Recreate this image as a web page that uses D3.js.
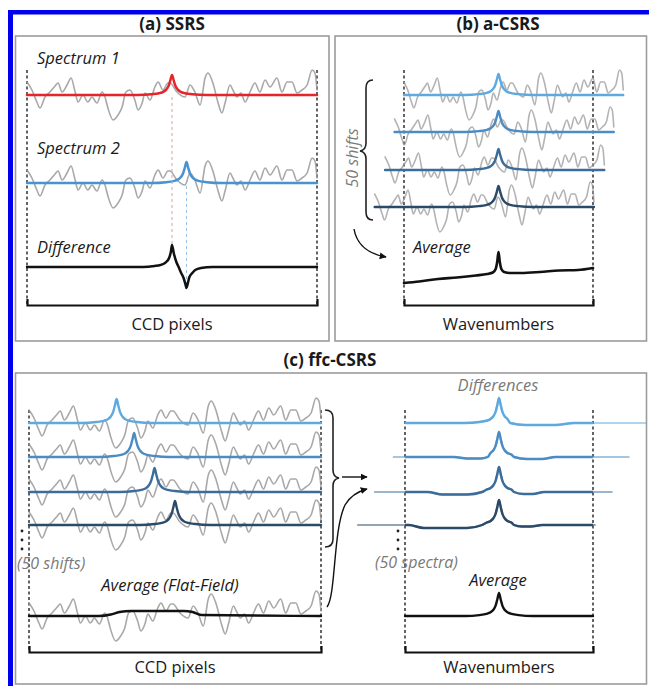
<!DOCTYPE html>
<html>
<head>
<meta charset="utf-8">
<script src="https://cdn.jsdelivr.net/npm/d3@7"></script>
<style>
  body { margin: 0; background: #fff; }
  text { font-family: "Open Sans", "Noto Sans", sans-serif; fill: #1a1a1a; }
  .it { font-style: italic; }
  .soft { fill: #7a7a7a; }
</style>
</head>
<body>
<svg id="chart" width="649" height="686"></svg>
<script>
// fixed-pattern background (CCD pixel 0-100, offset in px)
var noisePix = [0, 1.7, 3.4, 4.5, 6.2, 7.9, 9.7, 10.7, 12.1, 13.8, 15.2, 16.6, 17.6, 19.3, 21, 22.4, 24.1, 25.9, 26.9, 27.9,
    29.7, 31.4, 32.8, 34.1, 35.5, 37.2, 38.3, 39.7, 40.7, 42.4, 44.1, 45.2, 46.9, 48.6, 49.3, 51.7, 54.5, 56.2, 57.9, 59.7,
    61.4, 62.4, 64.1, 65.9, 67.2, 68.3, 70, 71, 72.4, 73.8, 75.2, 76.9, 78.6, 80.3, 82.1, 83.8, 86.2, 87.9, 89.7, 91.4,
    93.1, 94.8, 96.6, 98.3, 99.3, 100];
var noiseVal = [13, 5, -7, -13, -2, 3, 9, 12, 3, 10, 17, 3, -7, 0, -7, -2, -8, 3, -2, -13,
    -25, -20, -12, 3, 5, -5, -15, -8, 2, -5, 8, 13, 5, 12, 12, 3, -2, 10, 3, -10,
    17, 22, 12, -8, -18, -8, 10, 5, -2, 2, -7, 3, 12, 3, 15, 8, 17, 3, 13, 13,
    2, 5, 10, 25, 22, 5];

// Raman band shape (offset from centre, relative height)
var bandDx = [-12, -7, -4.5, -3, -2, -1.2, -0.6, 0, 0.6, 1.2, 2, 3, 4.5, 7, 12];
var bandH = [0, 0.04, 0.09, 0.16, 0.27, 0.45, 0.72, 1, 0.72, 0.45, 0.27, 0.16, 0.09, 0.04, 0];

// (a) SSRS
var ssrsCentres = [50, 55];
var ssrsHeights = [20, 21];
var diffPix = [0, 40, 44, 46, 47, 48, 49, 49.6, 50, 50.6, 51.5, 52.3, 53, 54, 54.6, 55, 55.4, 56, 57, 58, 60, 64, 100];
var diffVal = [0, 0, 1, 2, 3, 5, 9, 15, 22, 14, 5, 0, -5, -11, -17, -21, -17, -10, -6, -3, -1, 0, 0];

// (b) a-CSRS
var aShifts = [0, 5, 10, 15.5];
var aSpan = 116;
var aHeight = 21;
var aAvgPix = [0, 8, 18, 28, 38, 44, 47, 48.5, 49.3, 50, 50.7, 51.5, 53, 56, 62, 72, 82, 92, 100];
var aAvgVal = [0, 1.5, 4, 5.5, 7.5, 9, 10.5, 14, 21, 31, 21, 14, 11, 10, 10, 11, 12.5, 13, 15];

// (c) ffc-CSRS
var cCentres = [30, 36, 43, 50];
var cHeight = 24;
var ffPix = [0, 24, 28, 31, 35, 45, 53, 56, 59, 100];
var ffVal = [0, 0, 1.5, 4, 5, 5, 5, 4, 1, 0];
var dRange = [[0, 128], [-6, 119], [-16, 110], [-25, 101]];
// residual dips, four points each (start, bottom, bottom, end)
var dDipPix = [[56, 64, 80, 90], [26, 33, 40, 44, 58, 65, 73, 80], [12, 20, 33, 41, 58, 63, 68, 74], [2, 10, 33, 41, 58, 62, 67, 73]];
var dDipVal = [[0, -2, -2, 0], [0, -1.5, -1.5, 0, 0, -2, -2, 0], [0, -2.5, -2.5, 0, 0, -2, -2, 0], [0, -3, -3, 0, 0, -1.5, -1.5, 0]];
var dHeight = 25;
var avgHeight = 23;

var rowColours = ["#5eaae0", "#4b8cc4", "#3c6c99", "#2b4a6a"];

var svg = d3.select("#chart");
var defs = svg.append("defs");
defs.append("marker").attr("id", "head").attr("viewBox", "0 0 10 10")
    .attr("refX", 9).attr("refY", 5).attr("markerWidth", 7).attr("markerHeight", 7)
    .attr("orient", "auto").attr("markerUnits", "userSpaceOnUse")
    .append("path").attr("d", "M0,0L10,5L0,10z").attr("fill", "#111");

// blue page border
svg.append("rect").attr("x", 8).attr("y", 10).attr("width", 641).attr("height", 4.5).attr("fill", "#0000f0");
svg.append("rect").attr("x", 8).attr("y", 10).attr("width", 5).attr("height", 676).attr("fill", "#0000f0");

// panel frames and titles
[[15.5, 36, 313.5, 305], [335, 36, 311.5, 305], [15.5, 373, 631, 311]].forEach(function (r) {
    svg.append("rect").attr("x", r[0]).attr("y", r[1]).attr("width", r[2]).attr("height", r[3])
        .attr("fill", "none").attr("stroke", "#9c9c9c").attr("stroke-width", 1.6);
});
[["(a) SSRS", 172, 30], ["(b) a-CSRS", 498, 30], ["(c) ffc-CSRS", 330, 366]].forEach(function (t) {
    svg.append("text").attr("x", t[1]).attr("y", t[2]).attr("text-anchor", "middle")
        .attr("font-size", 17).attr("font-weight", "bold").text(t[0]);
});

function label(x, y, txt, size, cls, anchor) {
    return svg.append("text").attr("x", x).attr("y", y).attr("font-size", size)
        .attr("class", cls || "").attr("text-anchor", anchor || "start").text(txt);
}

// dashed guides + bracket axis for a sub plot
function subplot(x0, x1, yTop, yBot, name, nameY) {
    var x = d3.scaleLinear().domain([0, 100]).range([x0, x1]);
    svg.append("g").selectAll("line").data([0, 100]).join("line")
        .attr("x1", function (d) { return x(d); }).attr("x2", function (d) { return x(d); })
        .attr("y1", yTop).attr("y2", yBot)
        .attr("stroke", "#222").attr("stroke-width", 1.4).attr("stroke-dasharray", "3,2.5");
    svg.append("g").attr("transform", "translate(0," + yBot + ")")
        .call(d3.axisBottom(x).tickValues([]).tickSizeOuter(-6))
        .call(function (a) { a.select(".domain").attr("stroke", "#111").attr("stroke-width", 2.2); });
    label((x0 + x1) / 2, nameY, name, 16.5, "", "middle");
    return x;
}

function rowScale(base) {
    return d3.scaleLinear().domain([0, 1]).range([base, base - 1]);
}

function trace(x, y, pts, colour, width, curve) {
    var line = d3.line()
        .x(function (d) { return x(d[0]); })
        .y(function (d) { return y(d[1]); })
        .curve(curve || d3.curveMonotoneX);
    return svg.append("path").datum(pts).attr("d", line)
        .attr("fill", "none").attr("stroke", colour).attr("stroke-width", width)
        .attr("stroke-linejoin", "round").attr("stroke-linecap", "round");
}

function noisePts(offset, stretch) {
    return noisePix.map(function (p, i) { return [offset + p * stretch, noiseVal[i]]; });
}

// band on a flat baseline; dips (if any) replace the band tail where they sit
function bandPts(c, h, lo, hi, w, dipPix, dipVal) {
    var pts = [[lo, 0], [hi, 0]];
    var spans = [];
    if (dipPix) {
        for (var k = 0; k < dipPix.length; k += 4) spans.push([dipPix[k], dipPix[k + 3]]);
        dipPix.forEach(function (p, k) { if (p > lo && p < hi) pts.push([p, dipVal[k]]); });
    }
    bandDx.forEach(function (d, i) {
        var p = c + d * w;
        var inDip = spans.some(function (s) { return p >= s[0] && p <= s[1]; });
        if (p > lo && p < hi && !inDip) pts.push([p, bandH[i] * h]);
    });
    return pts.sort(function (a, b) { return a[0] - b[0]; });
}

function grey(x, y, pts, op) {
    return trace(x, y, pts, "#999", 1.6, d3.curveMonotoneX).attr("opacity", op || 0.85);
}

// ---- (a) SSRS ----
var xa = subplot(27, 317, 70, 305, "CCD pixels", 330);
var ssrsBase = [95, 183];
var ssrsColours = ["#e4262b", "#4a92d2"];
label(37, 64, "Spectrum 1", 16.5, "it");
label(37, 154, "Spectrum 2", 16.5, "it");
label(37, 253, "Difference", 16.5, "it");
ssrsBase.forEach(function (b, i) {
    var y = rowScale(b);
    grey(xa, y, noisePts(0, 1));
    trace(xa, y, bandPts(ssrsCentres[i], ssrsHeights[i], 0, 100, 1), ssrsColours[i], 2.5);
});
svg.append("line").attr("x1", xa(ssrsCentres[0])).attr("x2", xa(ssrsCentres[0])).attr("y1", 97).attr("y2", 247)
    .attr("stroke", "#e89a9a").attr("stroke-width", 1).attr("stroke-dasharray", "3,3");
svg.append("line").attr("x1", xa(ssrsCentres[1])).attr("x2", xa(ssrsCentres[1])).attr("y1", 186).attr("y2", 287)
    .attr("stroke", "#98bfe4").attr("stroke-width", 1).attr("stroke-dasharray", "3,3");
trace(xa, rowScale(267), diffPix.map(function (p, i) { return [p, diffVal[i]]; }), "#111", 2.5);

// ---- (b) a-CSRS ----
var xb = subplot(404, 593, 70, 305, "Wavenumbers", 330);
var aBase = [95, 132, 170, 207];
aBase.forEach(function (b, i) {
    grey(xb, rowScale(b), noisePts(-aShifts[i], aSpan / 100), 0.75);
});
aBase.forEach(function (b, i) {
    trace(xb, rowScale(b), bandPts(50, aHeight, -aShifts[i], aSpan - aShifts[i], 1.5), rowColours[i], 2.4);
});
svg.append("path").attr("d", "M373,80Q366,80 366,88L366,143Q366,150 360,151Q366,152 366,159L366,212Q366,220 373,220")
    .attr("fill", "none").attr("stroke", "#222").attr("stroke-width", 1.6);
label(0, 0, "50 shifts", 16, "it soft", "middle").attr("transform", "translate(358,158) rotate(-90)");
svg.append("path").attr("d", "M354,229Q358,252 386,257").attr("fill", "none")
    .attr("stroke", "#111").attr("stroke-width", 1.4).attr("marker-end", "url(#head)");
label(413, 253, "Average", 16.5, "it");
trace(xb, rowScale(283), aAvgPix.map(function (p, i) { return [p, aAvgVal[i]]; }), "#111", 2.6);

// ---- (c) ffc-CSRS, left: shifted spectra on CCD pixels ----
var xc = subplot(29, 321, 410, 652, "CCD pixels", 673);
var cBase = [423, 457, 492, 525];
cBase.forEach(function (b) { grey(xc, rowScale(b), noisePts(0, 1)); });
cBase.forEach(function (b, i) {
    trace(xc, rowScale(b), bandPts(cCentres[i], cHeight, 0, 100, 1), rowColours[i], 2.4);
});
[531, 540, 549].forEach(function (d) {
    svg.append("circle").attr("cx", 22).attr("cy", d).attr("r", 1.4).attr("fill", "#222");
});
label(17, 569, "(50 shifts)", 16, "it soft");
label(170, 591, "Average (Flat-Field)", 16.5, "it", "middle");
grey(xc, rowScale(616), noisePts(0, 1));
trace(xc, rowScale(616), ffPix.map(function (p, i) { return [p, ffVal[i]]; }), "#111", 2.4);

svg.append("path").attr("d", "M325,410Q333,410 333,418L333,470Q333,477 339,478Q333,479 333,486L333,539Q333,547 325,547")
    .attr("fill", "none").attr("stroke", "#222").attr("stroke-width", 1.6);
svg.append("path").attr("d", "M342,477L367,477").attr("fill", "none")
    .attr("stroke", "#111").attr("stroke-width", 1.4).attr("marker-end", "url(#head)");
svg.append("path").attr("d", "M327,607C336,595 333,530 345,505Q352,493 367,489").attr("fill", "none")
    .attr("stroke", "#111").attr("stroke-width", 1.4).attr("marker-end", "url(#head)");

// ---- (c) right: differences on wavenumbers ----
var xd = subplot(405, 593, 410, 652, "Wavenumbers", 673);
label(498, 391, "Differences", 16.5, "it soft", "middle");
defs.append("clipPath").attr("id", "inside").append("rect")
    .attr("x", xd(0)).attr("y", 380).attr("width", xd(100) - xd(0)).attr("height", 180);
cBase.forEach(function (b, i) {
    var y = rowScale(b);
    var pts = bandPts(50, dHeight, dRange[i][0], dRange[i][1], 1.5, dDipPix[i], dDipVal[i]);
    trace(xd, y, pts, rowColours[i], 2.2).attr("opacity", 0.5);
    trace(xd, y, pts, rowColours[i], 2.4).attr("clip-path", "url(#inside)");
});
[531, 540, 549].forEach(function (d) {
    svg.append("circle").attr("cx", 398).attr("cy", d).attr("r", 1.4).attr("fill", "#222");
});
label(375, 568, "(50 spectra)", 16, "it soft");
label(498, 586, "Average", 16.5, "it", "middle");
trace(xd, rowScale(616), bandPts(50, avgHeight, 0, 100, 1.5), "#111", 2.4);
</script>
</body>
</html>
